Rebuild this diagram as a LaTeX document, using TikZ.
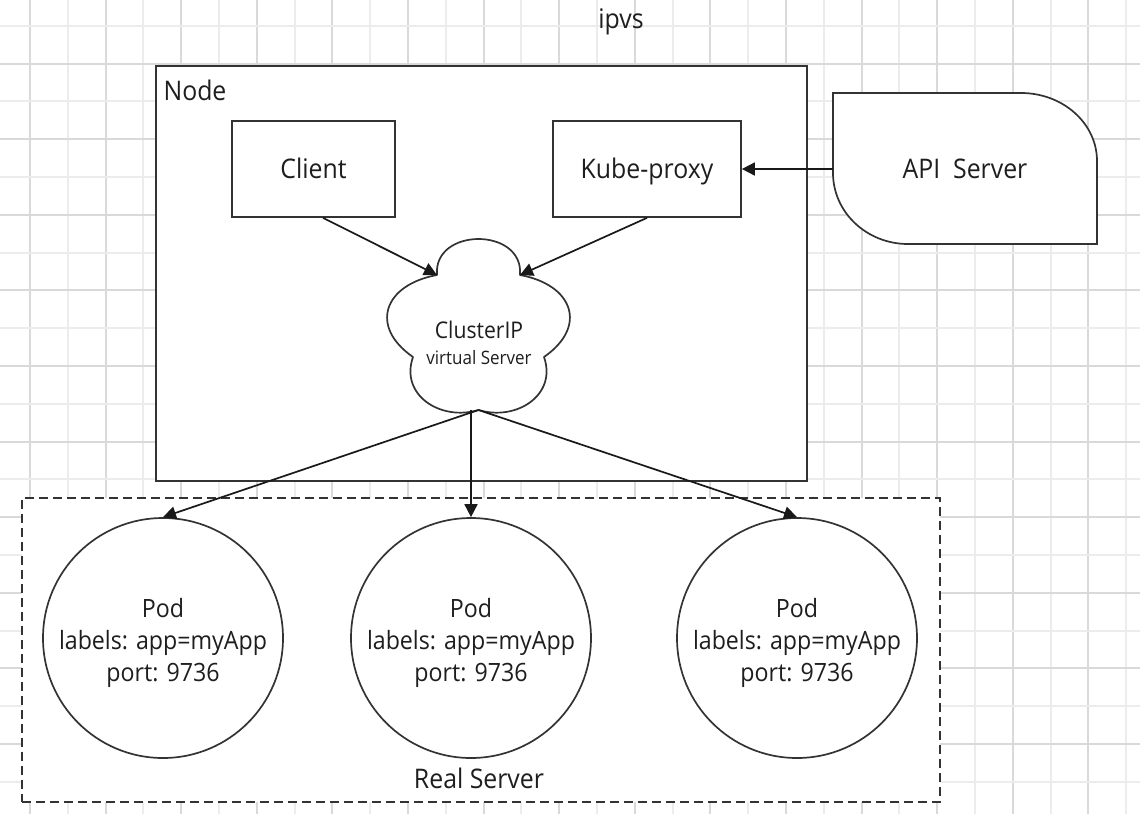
\documentclass[tikz,border=0pt]{standalone}
\usepackage{fontspec}
\setmainfont{Open Sans}[FakeStretch=0.92]
\usetikzlibrary{arrows.meta,calc}
\definecolor{ink}{HTML}{333333}
\definecolor{txt}{HTML}{1E1E1E}
\definecolor{gridA}{HTML}{D9D9D9}
\definecolor{gridB}{HTML}{ECECEC}
\begin{document}
\begin{tikzpicture}[x=1pt,y=-1pt,
  every node/.style={text=txt},
  big/.style={font=\fontsize{27}{32}\selectfont},
  podfont/.style={font=\fontsize{25.2}{32}\selectfont},
  frame/.style={draw=ink, line width=1.7pt, fill=white},
  box/.style={big, frame, inner sep=0pt, text height=19pt, text depth=0pt},
  pod/.style={podfont, circle, frame, minimum size=240pt, inner sep=0pt, align=center},
  link/.style={draw=black!90, line width=1.7pt, -{Triangle[length=13pt,width=13pt]}},
]
\useasboundingbox (0,0) rectangle (1140,814);

% background grid, alternating strong and faint lines
\foreach \k in {0,...,29} {
  \pgfmathsetmacro\gx{round(30+37.8*\k)}
  \ifodd\k \def\gc{gridB}\else \def\gc{gridA}\fi
  \draw[draw=\gc, line width=1.5pt] (\gx,0) -- (\gx,814);
}
\foreach \k in {0,...,20} {
  \pgfmathsetmacro\gy{round(25.7+37.8*\k)}
  \ifodd\k \def\gc{gridA}\else \def\gc{gridB}\fi
  \draw[draw=\gc, line width=1.5pt] (0,\gy) -- (1140,\gy);
}

% containers
\node[frame, minimum width=651pt, minimum height=415pt, anchor=north west] (nodebox) at (155,65) {};
\node[frame, dash pattern=on 9pt off 5pt, minimum width=918pt, minimum height=304pt, anchor=north west] (realsrv) at (21,497) {};
\node[big, anchor=base west] (nodelbl) at (160,100) {Node};
\node[big, anchor=base] (rslbl) at (479,788) {Real Server};
\node[big, anchor=base] (title) at (621,28) {ipvs};

% processes on the node
\node[box, minimum width=163pt, minimum height=96pt] (cl) at (313.5,169) {Client};
\node[box, minimum width=188pt, minimum height=96pt] (kp) at (647,169) {Kube-proxy};

% API server
\draw[frame] (833,93) -- (1021,93) .. controls (1063,93) and (1097,123.4) .. (1097,161)
  -- (1097,244) -- (908,244) .. controls (866.6,244) and (833,212.2) .. (833,173) -- cycle;
\node[big, text height=19pt, text depth=0pt] (api) at (965,169) {API\ \ Server};
\coordinate (apiw) at (833,169);

% ClusterIP cloud: five puffs meeting at five notches
\coordinate (ntl) at (437,275);
\coordinate (ntr) at (520,275);
\coordinate (nr) at (544,357);
\coordinate (nb) at (478.5,410);
\coordinate (nl) at (413,357);
\draw[frame, line join=round] (nl)
  .. controls (368.7,326.2) and (384.1,284.7) .. (ntl)
  .. controls (433,227) and (524,227) .. (ntr)
  .. controls (572.9,284.7) and (588.3,326.2) .. (nr)
  .. controls (557.3,395) and (516.5,421.4) .. (nb)
  .. controls (440.5,421.4) and (399.7,395) .. (nl) -- cycle;
\node[font=\fontsize{23}{28}\selectfont, anchor=base] (cip) at (479,338) {ClusterIP};
\node[font=\fontsize{18.5}{24}\selectfont, anchor=base] (vsv) at (479,364) {virtual Server};

% pods
\node[pod] (p1) at (163,638) {\rule{0pt}{30pt}Pod\\labels: app=myApp\\port: 9736\rule[-7pt]{0pt}{7pt}};
\node[pod] (p2) at (471,638) {\rule{0pt}{30pt}Pod\\labels: app=myApp\\port: 9736\rule[-7pt]{0pt}{7pt}};
\node[pod] (p3) at (797,638) {\rule{0pt}{30pt}Pod\\labels: app=myApp\\port: 9736\rule[-7pt]{0pt}{7pt}};

% connectors
\draw[link] ([xshift=9.5pt]cl.south) -- (ntl);
\draw[link] (kp.south) -- (ntr);
\draw[link] (apiw) -- (kp.east);
\draw[link] (nb) -- (p1.north);
\draw[link] (p2.north |- nb) -- (p2.north);
\draw[link] (nb) -- (p3.north);
\end{tikzpicture}
\end{document}
